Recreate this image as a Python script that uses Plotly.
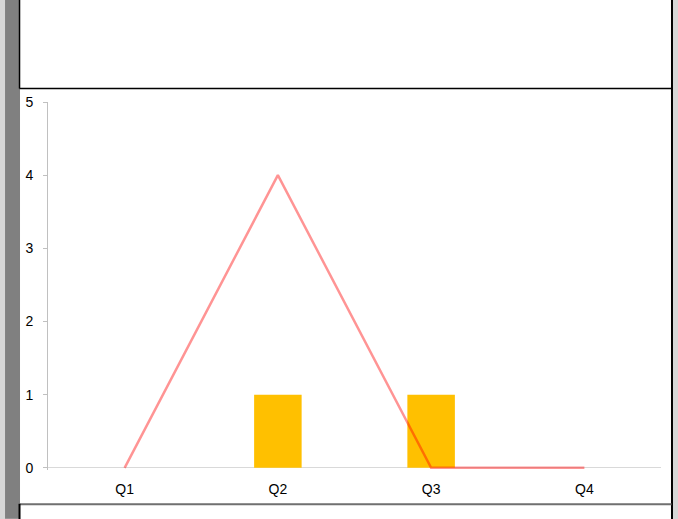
import plotly.graph_objects as go

# Quarterly data
quarters = ["Q1", "Q2", "Q3", "Q4"]
bar_values = [0, 1, 1, 0]
line_values = [0, 4, 0, 0]
y_ticks = [0, 1, 2, 3, 4, 5]

W, H = 678, 519
Y_MIN, Y_MAX = -0.03, 5
# plot area in pixels (value 0 sits at y=468, value 5 at y=102)
UNIT = (468 - 102) / 5
PL, PR, PT = 48, 661.5, 102
PB = 468 - Y_MIN * UNIT


def px_x(x):
    return (x - PL) / (PR - PL)


def px_y(y):
    return (PB - y) / (PB - PT)


def rect(x0, y0, x1, y1, fill):
    return dict(
        type="rect", xref="paper", yref="paper", layer="below",
        x0=px_x(x0), x1=px_x(x1), y0=px_y(y1), y1=px_y(y0),
        fillcolor=fill, line=dict(color=fill, width=0),
    )


def hline(x0, x1, y, color, width):
    return dict(type="line", xref="paper", yref="paper", layer="below",
                x0=px_x(x0), x1=px_x(x1), y0=px_y(y), y1=px_y(y),
                line=dict(color=color, width=width))


def vline(x, y0, y1, color, width):
    return dict(type="line", xref="paper", yref="paper", layer="below",
                x0=px_x(x), x1=px_x(x), y0=px_y(y0), y1=px_y(y1),
                line=dict(color=color, width=width))


shapes = [
    rect(0, 0, 5, H, "#d6d6d6"),
    rect(5, 0, 20, H, "#808080"),
    rect(673, 0, W, H, "#d6d6d6"),
    # header panel
    rect(19.5, -1, 673, 88, "#ffffff"),
    # chart panel
    rect(20, 89, 672, 504, "#ffffff"),
    # footer panel
    rect(19.5, 505, 673, H + 1, "#ffffff"),
    vline(19.5, -1, 88.5, "#000000", 1.5),
    hline(19.5, 673, 88.5, "#000000", 1.5),
    vline(672.5, -1, H + 1, "#000000", 2),
    hline(20, 672, 504.5, "#707070", 2),
    vline(19.5, 504, H + 1, "#000000", 2),
]

fig = go.Figure()
fig.add_trace(go.Bar(
    x=quarters, y=bar_values, width=0.31,
    marker=dict(color="#ffc000", line=dict(width=0)),
))
fig.add_trace(go.Scatter(
    x=quarters, y=line_values, mode="lines",
    line=dict(color="rgba(255,0,0,0.42)", width=2.5),
))

fig.update_layout(
    width=W, height=H,
    margin=dict(l=PL, r=W - PR, t=PT, b=H - PB, pad=0),
    paper_bgcolor="#d6d6d6",
    plot_bgcolor="rgba(0,0,0,0)",
    showlegend=False,
    shapes=shapes,
    font=dict(family="Liberation Sans, Arial, sans-serif", size=14, color="#000000"),
    xaxis=dict(
        showline=False, showgrid=False, zeroline=False,
        ticks="outside", ticklen=6, tickcolor="rgba(0,0,0,0)",
        fixedrange=True,
    ),
    yaxis=dict(
        range=[Y_MIN, Y_MAX], tickvals=y_ticks,
        showline=True, linecolor="#c0c0c0", linewidth=1,
        ticks="outside", ticklen=4, tickcolor="#c0c0c0",
        ticklabelstandoff=7,
        showgrid=False,
        zeroline=True, zerolinecolor="#d9d9d9", zerolinewidth=1,
        fixedrange=True,
    ),
)

fig.write_html("out.html")
